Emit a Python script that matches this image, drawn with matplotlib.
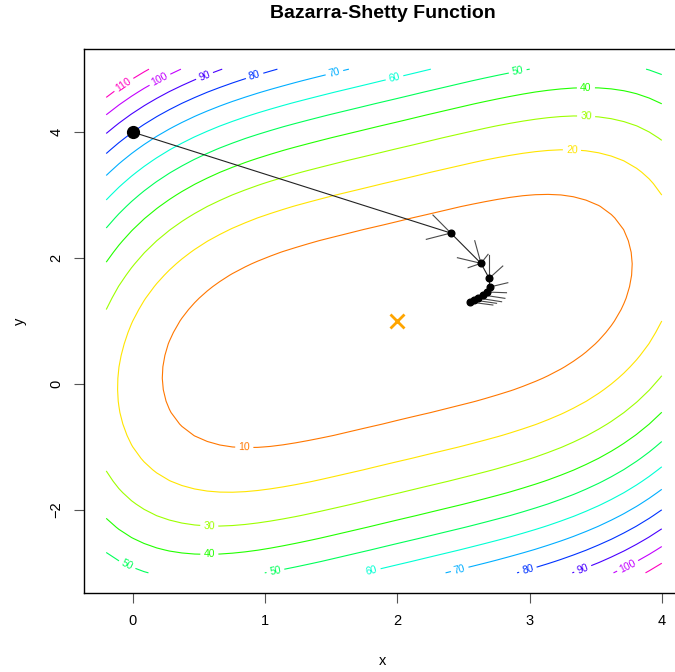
import colorsys

import matplotlib.pyplot as plt
import numpy as np

plt.rcParams["font.family"] = ["Liberation Sans", "DejaVu Sans"]

# Bazaraa-Shetty function evaluated on the plotted window
X_RANGE = (-0.2, 4.0)
Y_RANGE = (-3.0, 5.0)
LEVELS = [10, 20, 30, 40, 50, 60, 70, 80, 90, 100, 110]
LEVEL_HUES = [28, 54, 83, 112, 141, 170, 199, 228, 257, 286, 315]

# search path
PATH_X = [0.0, 2.405, 2.633, 2.695, 2.700, 2.677, 2.647, 2.609, 2.579, 2.548]
PATH_Y = [4.0, 2.397, 1.916, 1.678, 1.540, 1.460, 1.413, 1.365, 1.333, 1.302]

# short probe segments: (start index on path, end x, end y)
PROBE_FROM = [1, 1, 2, 2, 2, 2, 3, 3, 4, 5, 6, 7, 8, 9]
PROBE_X = [2.270, 2.220, 2.586, 2.455, 2.536, 2.687, 2.798, 2.695, 2.836, 2.826, 2.814, 2.789, 2.751, 2.723]
PROBE_Y = [2.683, 2.297, 2.275, 2.005, 1.846, 2.059, 1.873, 2.048, 1.608, 1.449, 1.360, 1.306, 1.281, 1.254]

OPTIMUM = (2.0, 1.0)

# contour label spots (x, y)
LABEL_SPOTS = [
    (-0.065, 4.746), (0.20, 4.857), (0.541, 4.905), (0.92, 4.905), (1.526, 4.937),
    (1.98, 4.857), (2.912, 4.952), (3.427, 4.667), (3.427, 4.222), (3.321, 3.698),
    (0.844, -1.0), (0.579, -2.238), (0.579, -2.667), (-0.042, -2.873), (1.079, -2.968),
    (1.806, -2.952), (2.473, -2.952), (2.988, -2.952), (3.405, -2.952), (3.738, -2.873),
]


def bazaraa_shetty(x, y):
    return (x - 2) ** 4 + (x - 2 * y) ** 2


def main():
    fig = plt.figure(figsize=(6.75, 6.72), dpi=100)
    # right edge of the box runs slightly past the image, as in the reference
    ax = fig.add_axes([84 / 675, 1 - 593 / 672, 600 / 675, 544 / 672])

    gx = np.linspace(*X_RANGE, 45)
    gy = np.linspace(*Y_RANGE, 45)
    xx, yy = np.meshgrid(gx, gy)
    zz = bazaraa_shetty(xx, yy)

    colors = [colorsys.hsv_to_rgb(h / 360, 1.0, 1.0) for h in LEVEL_HUES]
    cs = ax.contour(xx, yy, zz, levels=LEVELS, colors=colors, linewidths=0.8)
    ax.clabel(cs, inline=True, inline_spacing=4, fontsize=7.5, fmt="%d", manual=LABEL_SPOTS)

    for i, ex, ey in zip(PROBE_FROM, PROBE_X, PROBE_Y):
        ax.plot([PATH_X[i], ex], [PATH_Y[i], ey], color="#4a4a4a", lw=0.8, zorder=3)

    ax.plot(PATH_X, PATH_Y, color="#222222", lw=0.8, zorder=4)
    ax.plot(PATH_X[1:], PATH_Y[1:], "o", color="black", ms=4.8, zorder=5)
    ax.plot(PATH_X[0], PATH_Y[0], "o", color="black", ms=8.5, zorder=5)
    ax.plot(*OPTIMUM, "x", color="#FFA500", ms=10, mew=2, zorder=5)

    xr = X_RANGE[1] - X_RANGE[0]
    yr = Y_RANGE[1] - Y_RANGE[0]
    ax.set_xlim(X_RANGE[0] - 0.04 * xr, X_RANGE[1] + 0.04 * xr)
    ax.set_ylim(Y_RANGE[0] - 0.04 * yr, Y_RANGE[1] + 0.04 * yr)
    ax.set_xticks([0, 1, 2, 3, 4])
    ax.set_yticks([-2, 0, 2, 4])
    ax.tick_params(direction="out", length=7, width=0.8, color="#555555",
                   labelsize=10.5, pad=8)
    plt.setp(ax.get_yticklabels(), rotation=90, va="center")
    for s in ax.spines.values():
        s.set_linewidth(1.0)

    fig.text(383 / 675, 1 - 13 / 672, "Bazarra-Shetty Function", ha="center", va="center",
             fontsize=14, fontweight="bold")
    fig.text(383 / 675, 1 - 661 / 672, "x", ha="center", va="center", fontsize=10.5)
    fig.text(20 / 675, 1 - 321 / 672, "y", ha="center", va="center", fontsize=10.5, rotation=90)

    fig.savefig("out.png", dpi=100)


if __name__ == "__main__":
    main()
